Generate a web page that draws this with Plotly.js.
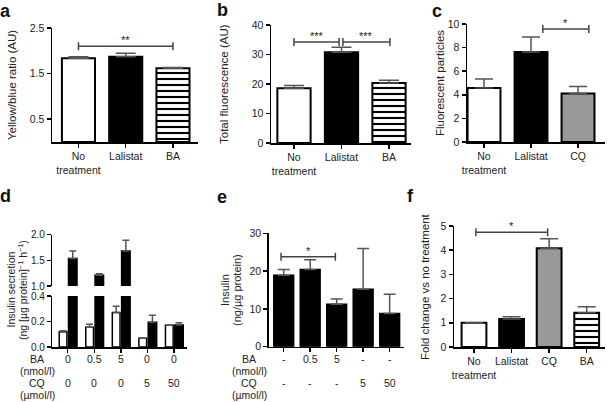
<!DOCTYPE html>
<html><head><meta charset="utf-8">
<script src="https://cdn.plot.ly/plotly-3.0.1.min.js"></script>
<style>html,body{margin:0;padding:0;background:#fff;} #chart{width:614px;height:402px;}</style>
</head><body><div id="chart"></div>
<script>
// ---------------- DATA ----------------
// Panel a
const aLabels = ['No<br>treatment', 'Lalistat', 'BA'];
const aMeans  = [1.835, 1.87, 1.616];
const aErr    = [0.035, 0.075, 0.02];
// Panel b
const bLabels = ['No<br>treatment', 'Lalistat', 'BA'];
const bMeans  = [18.6, 30.8, 20.3];
const bErr    = [0.9, 1.7, 1.0];
// Panel c
const cLabels = ['No<br>treatment', 'Lalistat', 'CQ'];
const cMeans  = [4.58, 7.63, 4.1];
const cErr    = [0.76, 1.27, 0.6];
// Panel d
const dBA        = ['0', '0.5', '5', '0', '0'];
const dCQ        = ['0', '0', '0', '5', '50'];
const dOpen      = [0.12, 0.155, 0.27, 0.068, 0.17];
const dOpenErr   = [0.008, 0.023, 0.05, 0.002, 0.002];
const dFilled    = [1.535, 1.21, 1.68, 0.194, 0.173];
const dFilledErr = [0.145, 0.03, 0.21, 0.056, 0.017];
// Panel e
const eBA    = ['-', '0.5', '5', '-', '-'];
const eCQ    = ['-', '-', '-', '5', '50'];
const eMeans = [18.9, 20.4, 11.2, 15.2, 8.8];
const eErr   = [1.5, 2.6, 1.4, 10.8, 5.1];
// Panel f
const fLabels = ['No<br>treatment', 'Lalistat', 'CQ', 'BA'];
const fMeans  = [1.0, 1.16, 4.08, 1.42];
const fErr    = [0, 0.09, 0.39, 0.24];
// Significance brackets [from, to, y, label]
const sigA = [[0, 2, 2.1, '**']];
const sigB = [[0, 0.95, 34.2, '***'], [1.03, 2.02, 34.2, '***']];
const sigC = [[1.25, 2.23, 9.58, '*']];
const sigE = [[-0.1, 1.95, 23.8, '*']];
const sigF = [[0.05, 1.96, 4.74, '*']];
// Row labels for treatment tables
const rowLabels = ['BA', '(nmol/l)', 'CQ', '(µmol/l)'];

// ---------------- STYLE / LAYOUT ----------------
const W = 614, H = 402;
const X = p => p / W, Y = p => 1 - p / H;
const FONT = 'Liberation Sans, Arial, Helvetica, sans-serif';
const TXT = '#222';
const idx = arr => arr.map((_, i) => i);

// fill styles: 'open' white, 'solid' black, 'grey', 'stripe' horizontal lines
function fillMarker(style, lw) {
  const m = {line: {color: 'black', width: lw}};
  if (style === 'open') m.color = 'white';
  else if (style === 'solid') m.color = 'black';
  else if (style === 'grey') m.color = '#999999';
  else if (style === 'stripe') {
    m.color = 'white';
    m.pattern = {shape: '-', fgcolor: 'black', bgcolor: 'white', size: 6, solidity: 0.35, fillmode: 'replace'};
  }
  return m;
}

// one trace per bar so each bar owns its fill style
function barTraces(xa, ya, means, err, styles, width, offset, lw, errw) {
  return idx(means).map(i => ({
    type: 'bar', x: [i], y: [means[i]], xaxis: xa, yaxis: ya,
    width: width, offset: offset, cliponaxis: true,
    marker: fillMarker(styles[i], lw),
    error_y: {type: 'data', symmetric: false, array: [err[i]], arrayminus: [0],
              color: '#555', thickness: 1.5, width: errw},
    hoverinfo: 'skip', showlegend: false
  }));
}

const traces = [].concat(
  barTraces('x', 'y', aMeans, aErr, ['open', 'solid', 'stripe'], 0.7, -0.35, 2, 10),
  barTraces('x2', 'y2', bMeans, bErr, ['open', 'solid', 'stripe'], 0.7, -0.35, 2, 10),
  barTraces('x3', 'y3', cMeans, cErr, ['open', 'solid', 'grey'], 0.7, -0.35, 2, 9),
  // d lower
  barTraces('x4', 'y4', dOpen, dOpenErr, dOpen.map(() => 'open'), 0.29, -0.32, 1.5, 3.5),
  barTraces('x4', 'y4', dFilled, dFilledErr, dFilled.map(() => 'solid'), 0.32, 0.03, 1.5, 3.5),
  // d upper (axis break)
  barTraces('x7', 'y7', dOpen, dOpenErr, dOpen.map(() => 'open'), 0.29, -0.32, 1.5, 3.5),
  barTraces('x7', 'y7', dFilled, dFilledErr, dFilled.map(() => 'solid'), 0.32, 0.03, 1.5, 3.5),
  barTraces('x5', 'y5', eMeans, eErr, eMeans.map(() => 'solid'), 0.75, -0.375, 1.5, 6),
  barTraces('x6', 'y6', fMeans, fErr, ['open', 'solid', 'grey', 'stripe'], 0.66, -0.33, 2, 9)
);

const axisBase = {
  showline: true, linecolor: 'black', linewidth: 1.5, ticks: 'outside', ticklen: 4,
  tickwidth: 1.5, tickcolor: 'black', showgrid: false, zeroline: false, fixedrange: true,
  tickangle: 0, automargin: false,
  tickfont: {family: FONT, size: 10.5, color: TXT}
};
function xAx(dom, range, labels, anchor, showLabels) {
  return Object.assign({}, axisBase, {
    domain: dom, range: range, anchor: anchor, tickmode: 'array',
    tickvals: idx(labels), ticktext: labels, showticklabels: showLabels
  });
}
function yAx(dom, range, tickvals, anchor, fmt) {
  return Object.assign({}, axisBase, {
    domain: dom, range: range, anchor: anchor, tickmode: 'array', tickvals: tickvals,
    tickformat: fmt || ''
  });
}

const layout = {
  width: W, height: H, margin: {l: 0, r: 0, t: 0, b: 0},
  paper_bgcolor: 'white', plot_bgcolor: 'rgba(0,0,0,0)',
  barmode: 'overlay', showlegend: false,
  font: {family: FONT, color: TXT},
  xaxis:  xAx([X(52), X(198)], [-0.56, 2.53], aLabels, 'y', true),
  yaxis:  yAx([Y(142), Y(28)], [0, 2.5], [0.5, 1.5, 2.5], 'x', '.1f'),
  xaxis2: xAx([X(271), X(411)], [-0.484, 2.463], bLabels, 'y2', true),
  yaxis2: yAx([Y(143), Y(25)], [0, 40], [0, 10, 20, 30, 40], 'x2'),
  xaxis3: xAx([X(467), X(605)], [-0.362, 2.574], cLabels, 'y3', true),
  yaxis3: yAx([Y(142), Y(24)], [0, 10], [0, 2, 4, 6, 8, 10], 'x3'),
  xaxis4: xAx([X(52.3), X(186.7)], [-0.58, 4.48], dBA, 'y4', false),
  yaxis4: Object.assign(yAx([Y(347), Y(296)], [0, 0.4], [0, 0.2, 0.4], 'x4', '.1f'), {tickfont: {family: FONT, size: 10, color: TXT}}),
  xaxis7: Object.assign(xAx([X(52.3), X(186.7)], [-0.58, 4.48], dBA, 'y7', false), {showline: false, ticks: ''}),
  yaxis7: Object.assign(yAx([Y(286), Y(234.5)], [1.0, 2.0], [1.0, 1.5, 2.0], 'x7', '.1f'), {tickfont: {family: FONT, size: 10, color: TXT}}),
  xaxis5: xAx([X(268.7), X(403.7)], [-0.566, 4.53], eBA, 'y5', false),
  yaxis5: yAx([Y(346.7), Y(233.3)], [0, 30], [0, 10, 20, 30], 'x5'),
  xaxis6: xAx([X(454), X(605)], [-0.532, 3.487], fLabels, 'y6', true),
  yaxis6: yAx([Y(347), Y(226)], [0, 5], [0, 1, 2, 3, 4, 5], 'x6'),
  shapes: [], annotations: []
};

function ann(o) {
  return Object.assign({showarrow: false, xanchor: 'center', yanchor: 'middle'}, o);
}

// Significance brackets
function addSig(list, xa, ya) {
  list.forEach(([from, to, y, lab]) => {
    const ln = {color: '#444', width: 1.5};
    layout.shapes.push({type: 'line', xref: xa, yref: ya, x0: from, x1: to, y0: y, y1: y, line: ln});
    [from, to].forEach(xx => layout.shapes.push({type: 'line', xref: xa, yref: ya, ysizemode: 'pixel',
      yanchor: y, x0: xx, x1: xx, y0: -4, y1: 4, line: ln}));
    layout.annotations.push(ann({xref: xa, yref: ya, x: (from + to) / 2, y: y, yshift: 6,
      text: lab, font: {family: FONT, size: 11, color: TXT}}));
  });
}
addSig(sigA, 'x', 'y');
addSig(sigB, 'x2', 'y2');
addSig(sigC, 'x3', 'y3');
addSig(sigE, 'x5', 'y5');
addSig(sigF, 'x6', 'y6');

// Treatment tables (d, e)
function addTable(ba, cq, xa, labelX) {
  const f = {family: FONT, size: 10.5, color: TXT};
  ba.forEach((t, i) => layout.annotations.push(ann({xref: xa, yref: 'paper', x: i, y: Y(359), text: t, font: f})));
  cq.forEach((t, i) => layout.annotations.push(ann({xref: xa, yref: 'paper', x: i, y: Y(383), text: t, font: f})));
  [359, 371, 383, 395].forEach((py, k) => layout.annotations.push(ann({xref: 'paper', yref: 'paper',
    x: X(labelX), y: Y(py), text: rowLabels[k], font: f})));
}
addTable(dBA, dCQ, 'x4', 37);
addTable(eBA, eCQ, 'x5', 249);

// Axis titles
function addTitle(text, px, pyc, size) {
  layout.annotations.push(ann({xref: 'paper', yref: 'paper', x: X(px), y: Y(pyc), text: text,
    textangle: -90, font: {family: FONT, size: size || 11.5, color: TXT}}));
}
addTitle('Yellow/blue ratio (AU)', 12, 85);
addTitle('Total fluorescence (AU)', 224, 84);
addTitle('Fluorescent particles', 440, 83);
addTitle('Insulin secretion', 10.5, 290, 10.5);
addTitle('(ng [µg protein]<sup>−1</sup> h<sup>−1</sup>)', 22, 290, 10.5);
addTitle('Insulin', 225, 290, 11);
addTitle('(ng/µg protein)', 237, 290, 11);
addTitle('Fold change vs no treatment', 425, 287);

// Panel letters
[['a', 6, 11], ['b', 222, 10], ['c', 437, 11], ['d', 6, 196], ['e', 222, 197], ['f', 410, 196]]
  .forEach(([t, px, py]) => layout.annotations.push(ann({xref: 'paper', yref: 'paper', x: X(px), y: Y(py),
    text: '<b>' + t + '</b>', font: {family: FONT, size: 18, color: '#111'}})));

Plotly.newPlot('chart', traces, layout, {staticPlot: true, displayModeBar: false});
</script>
</body></html>
